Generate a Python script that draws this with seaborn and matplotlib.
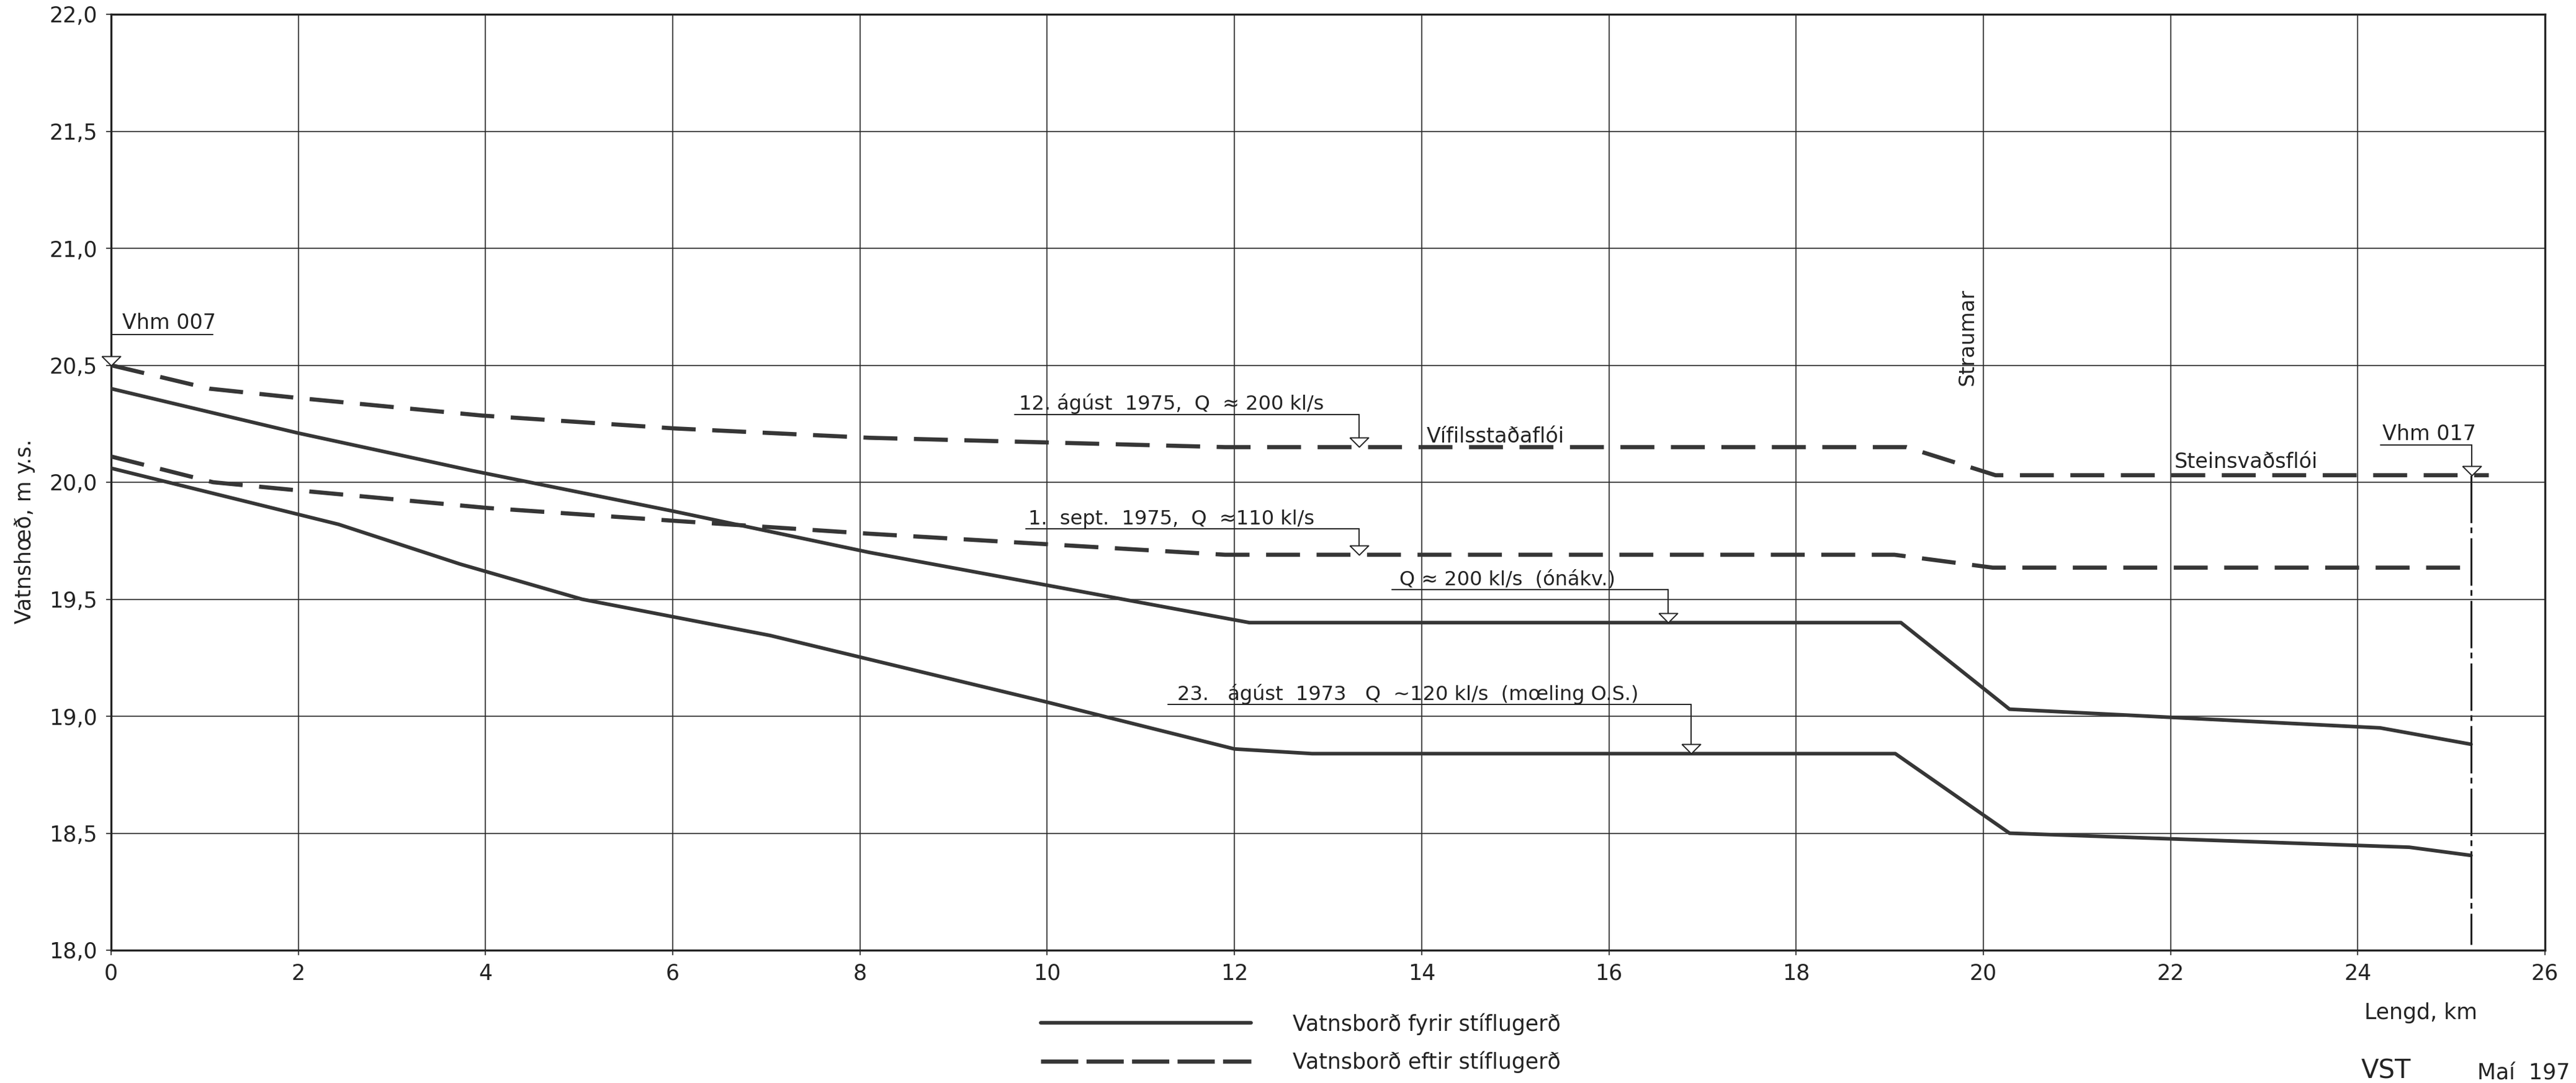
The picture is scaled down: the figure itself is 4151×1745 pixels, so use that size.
import numpy as np
import pandas as pd
import matplotlib
matplotlib.use("Agg")
import matplotlib.pyplot as plt
import seaborn as sns
from matplotlib.lines import Line2D

# ---------------- data ----------------
# before dam, Q ~ 200 kl/s (ónákv.)
km_before_200 = [0.0, 1.05, 2.0, 3.85, 6.02, 8.1, 12.16, 19.12, 20.28, 24.24, 25.21]
h_before_200 = [20.40, 20.30, 20.21, 20.05, 19.875, 19.70, 19.40, 19.40, 19.03, 18.95, 18.88]

# before dam, 23. ágúst 1973, Q ~ 120 kl/s
km_before_120 = [0.0, 2.43, 3.73, 5.03, 7.04, 10.0, 12.0, 12.83, 19.06, 20.28, 24.55, 25.21]
h_before_120 = [20.06, 19.82, 19.65, 19.50, 19.345, 19.06, 18.86, 18.84, 18.84, 18.50, 18.44, 18.405]

# after dam, 12. ágúst 1975, Q ~ 200 kl/s
km_after_200 = [0.0, 1.05, 2.0, 3.96, 6.02, 8.1, 11.9, 19.18, 20.13, 25.4]
h_after_200 = [20.50, 20.40, 20.36, 20.285, 20.23, 20.19, 20.15, 20.15, 20.03, 20.03]

# after dam, 1. sept. 1975, Q ~ 110 kl/s
km_after_110 = [0.0, 1.09, 2.0, 4.02, 6.02, 8.1, 10.0, 11.9, 19.05, 20.1, 25.21]
h_after_110 = [20.11, 20.00, 19.965, 19.89, 19.835, 19.78, 19.735, 19.69, 19.69, 19.635, 19.635]

x_ticks = list(range(0, 27, 2))
x_tick_labels = [str(v) for v in x_ticks]
y_ticks = [18.0, 18.5, 19.0, 19.5, 20.0, 20.5, 21.0, 21.5, 22.0]
y_tick_labels = ["18,0", "18,5", "19,0", "19,5", "20,0", "20,5", "21,0", "21,5", "22,0"]

legend_labels = ["Vatnsborð fyrir stíflugerð", "Vatnsborð eftir stíflugerð"]

# ---------------- style ----------------
sns.set_theme(style="white")
plt.rcParams['font.family'] = ['DejaVu Sans']

LINE = '#363636'
TXT = '#232323'
GRID = '#2a2a2a'

W, H = 4151, 1745
DPI = 100
fig = plt.figure(figsize=(W / DPI, H / DPI), dpi=DPI)
fig.patch.set_facecolor('white')
ax = fig.add_axes([179 / W, 1 - 1531 / H, (4101 - 179) / W, (1531 - 23) / H])
ax.set_facecolor('white')

SOLID_LW = 4.2
DASH_LW = 4.8
DASH = (0, (8.2, 4.0))

sns.lineplot(x=km_before_200, y=h_before_200, ax=ax, color=LINE, lw=SOLID_LW,
             sort=False, estimator=None, zorder=3)
sns.lineplot(x=km_before_120, y=h_before_120, ax=ax, color=LINE, lw=SOLID_LW,
             sort=False, estimator=None, zorder=3)
sns.lineplot(x=km_after_200, y=h_after_200, ax=ax, color=LINE, lw=DASH_LW,
             linestyle=DASH, sort=False, estimator=None, zorder=3)
sns.lineplot(x=km_after_110, y=h_after_110, ax=ax, color=LINE, lw=DASH_LW,
             linestyle=DASH, sort=False, estimator=None, zorder=3)

ax.set_xlim(0, 26)
ax.set_ylim(18, 22)
ax.set_xticks(x_ticks)
ax.set_xticklabels(x_tick_labels)
ax.set_yticks(y_ticks)
ax.set_yticklabels(y_tick_labels)
ax.grid(True, color=GRID, lw=1.2)
ax.tick_params(axis='both', which='both', bottom=True, left=True, direction='out',
               length=6, width=1.2, colors=TXT, labelsize=25)
ax.tick_params(axis='x', pad=9)
ax.tick_params(axis='y', pad=10)
for s in ax.spines.values():
    s.set_visible(True)
    s.set_color(TXT)
    s.set_linewidth(2.4)

ax.set_xlabel('')
ax.set_ylabel('Vatnshœð, m y.s.', fontsize=25, color=TXT)
ax.yaxis.set_label_coords(-0.031, 0.4475)

# ---------------- annotations ----------------
TRI = [(-1, 1), (1, 1), (0, 0), (-1, 1)]
TRI_H = 15 / 376.5  # triangle height in data units


def leader(text, x_text, y_base, x0, x1, y_line, x_drop, sx, sy, fs=23):
    y_tri = float(np.interp(x_drop, sx, sy))
    ax.text(x_text, y_base, text, fontsize=fs, va='baseline', ha='left', color=TXT, zorder=5)
    ax.plot([x0, x1], [y_line, y_line], color=TXT, lw=1.4, zorder=4, clip_on=False)
    ax.plot([x_drop, x_drop], [y_line, y_tri + TRI_H], color=TXT, lw=1.4, zorder=4,
            clip_on=False)
    ax.plot([x_drop], [y_tri], marker=TRI, ms=21.6, mfc='white', mec=TXT, mew=1.4,
            ls='none', zorder=6, clip_on=False)


leader('12. ágúst  1975,  Q  ≈ 200 kl/s', 9.70, 20.31, 9.65, 13.33, 20.29, 13.33,
       km_after_200, h_after_200)
leader('1.  sept.  1975,  Q  ≈110 kl/s', 9.80, 19.82, 9.77, 13.33, 19.80, 13.33,
       km_after_110, h_after_110)
leader('Q ≈ 200 kl/s  (ónákv.)', 13.76, 19.56, 13.68, 16.63, 19.54, 16.63,
       km_before_200, h_before_200)
leader('23.   ágúst  1973   Q  ~120 kl/s  (mœling O.S.)', 11.39, 19.07, 11.29, 16.88, 19.05,
       16.88, km_before_120, h_before_120)
leader('Vhm 007', 0.12, 20.655, 0.0, 1.09, 20.63, 0.0, km_after_200, h_after_200, fs=24)
leader('Vhm 017', 24.26, 20.18, 24.24, 25.22, 20.16, 25.22, km_after_200, h_after_200, fs=24)

ax.text(14.05, 20.17, 'Vífilsstaðaflói', fontsize=24, va='baseline', ha='left', color=TXT)
ax.text(22.04, 20.06, 'Steinsvaðsflói', fontsize=24, va='baseline', ha='left', color=TXT)
ax.text(19.83, 20.62, 'Straumar', fontsize=24, rotation=90, va='center', ha='center', color=TXT)

# gauge section line (dash-dot) at the downstream end
x_end = km_before_200[-1]
ax.plot([x_end, x_end], [h_after_200[-1], 18.025], color=TXT, lw=2.2,
        linestyle=(0, (25, 2.3, 3, 2.7)), zorder=4)

# ---------------- legend and footer texts ----------------
handles = [Line2D([], [], color=LINE, lw=SOLID_LW),
           Line2D([], [], color=LINE, lw=DASH_LW, linestyle=(0, (9, 2.0)))]
fig.legend(handles, legend_labels, loc='upper left',
           bbox_to_anchor=(1677 / W, 1 - 1632 / H), frameon=False, fontsize=25,
           handlelength=9.77, handletextpad=1.93, labelspacing=0.76, borderpad=0,
           borderaxespad=0, labelcolor=TXT)

fig.text(3810 / W, 1 - 1632 / H, 'Lengd, km', fontsize=25, va='center', ha='left', color=TXT)
fig.text(3805 / W, 1 - 1704 / H, 'VST', fontsize=30, va='top', ha='left', color=TXT)
fig.text(3992 / W, 1 - 1712 / H, 'Maí  197', fontsize=25, va='top', ha='left', color=TXT)

fig.savefig('out.png', dpi=DPI, facecolor='white')
